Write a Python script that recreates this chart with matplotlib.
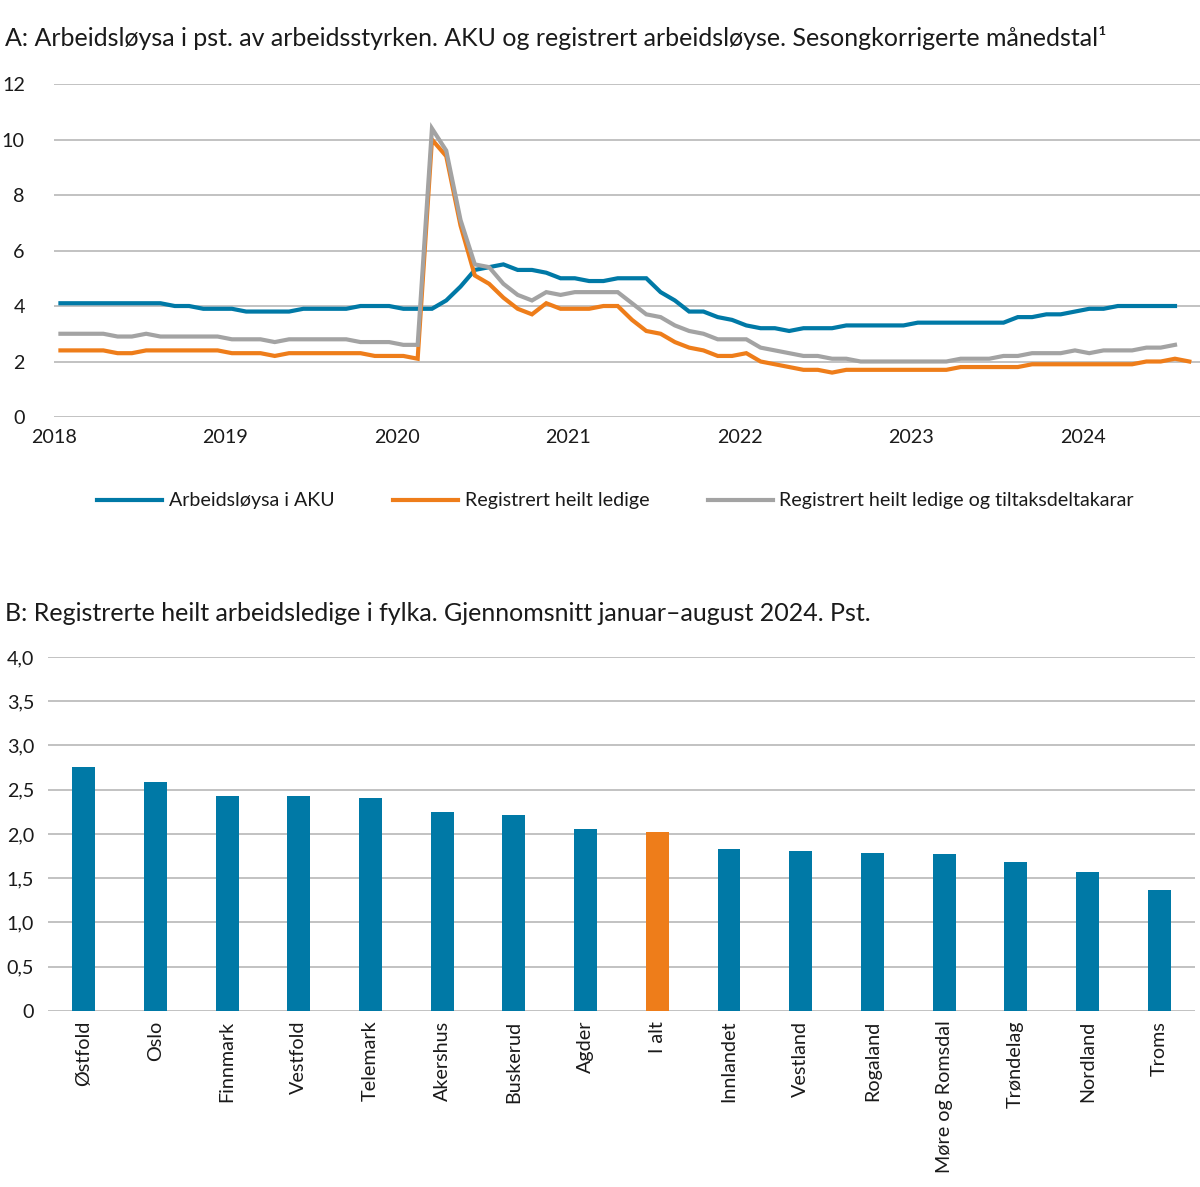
import matplotlib
matplotlib.use("Agg")
import matplotlib.pyplot as plt
import numpy as np

plt.rcParams['font.family'] = ['Lato', 'DejaVu Sans']

# ---------- Data: panel A (monthly, from Jan 2018) ----------
aku = [4.1, 4.1, 4.1, 4.1, 4.1, 4.1, 4.1, 4.1, 4.0, 4.0, 3.9, 3.9,
       3.9, 3.8, 3.8, 3.8, 3.8, 3.9, 3.9, 3.9, 3.9, 4.0, 4.0, 4.0,
       3.9, 3.9, 3.9, 4.2, 4.7, 5.3, 5.4, 5.5, 5.3, 5.3, 5.2, 5.0,
       5.0, 4.9, 4.9, 5.0, 5.0, 5.0, 4.5, 4.2, 3.8, 3.8, 3.6, 3.5,
       3.3, 3.2, 3.2, 3.1, 3.2, 3.2, 3.2, 3.3, 3.3, 3.3, 3.3, 3.3,
       3.4, 3.4, 3.4, 3.4, 3.4, 3.4, 3.4, 3.6, 3.6, 3.7, 3.7, 3.8,
       3.9, 3.9, 4.0, 4.0, 4.0, 4.0, 4.0]
reg = [2.4, 2.4, 2.4, 2.4, 2.3, 2.3, 2.4, 2.4, 2.4, 2.4, 2.4, 2.4,
       2.3, 2.3, 2.3, 2.2, 2.3, 2.3, 2.3, 2.3, 2.3, 2.3, 2.2, 2.2,
       2.2, 2.1, 10.0, 9.4, 6.9, 5.1, 4.8, 4.3, 3.9, 3.7, 4.1, 3.9,
       3.9, 3.9, 4.0, 4.0, 3.5, 3.1, 3.0, 2.7, 2.5, 2.4, 2.2, 2.2,
       2.3, 2.0, 1.9, 1.8, 1.7, 1.7, 1.6, 1.7, 1.7, 1.7, 1.7, 1.7,
       1.7, 1.7, 1.7, 1.8, 1.8, 1.8, 1.8, 1.8, 1.9, 1.9, 1.9, 1.9,
       1.9, 1.9, 1.9, 1.9, 2.0, 2.0, 2.1, 2.0]
reg_tiltak = [3.0, 3.0, 3.0, 3.0, 2.9, 2.9, 3.0, 2.9, 2.9, 2.9, 2.9, 2.9,
              2.8, 2.8, 2.8, 2.7, 2.8, 2.8, 2.8, 2.8, 2.8, 2.7, 2.7, 2.7,
              2.6, 2.6, 10.4, 9.6, 7.1, 5.5, 5.4, 4.8, 4.4, 4.2, 4.5, 4.4,
              4.5, 4.5, 4.5, 4.5, 4.1, 3.7, 3.6, 3.3, 3.1, 3.0, 2.8, 2.8,
              2.8, 2.5, 2.4, 2.3, 2.2, 2.2, 2.1, 2.1, 2.0, 2.0, 2.0, 2.0,
              2.0, 2.0, 2.0, 2.1, 2.1, 2.1, 2.2, 2.2, 2.3, 2.3, 2.3, 2.4,
              2.3, 2.4, 2.4, 2.4, 2.5, 2.5, 2.6]
year_labels = ['2018', '2019', '2020', '2021', '2022', '2023', '2024']
series_names = ['Arbeidsløysa i AKU', 'Registrert heilt ledige',
                'Registrert heilt ledige og tiltaksdeltakarar']

# ---------- Data: panel B ----------
fylke = ['Østfold', 'Oslo', 'Finnmark', 'Vestfold', 'Telemark', 'Akershus',
         'Buskerud', 'Agder', 'I alt', 'Innlandet', 'Vestland', 'Rogaland',
         'Møre og Romsdal', 'Trøndelag', 'Nordland', 'Troms']
ledige = [2.76, 2.59, 2.43, 2.43, 2.41, 2.25, 2.21, 2.06, 2.02, 1.83, 1.81,
          1.78, 1.77, 1.68, 1.57, 1.37]

BLUE = '#0079A6'
ORANGE = '#EE7D1A'
GRAY = '#A3A3A3'
GRID = '#BDBDBD'
TXT = '#1a1a1a'

fig = plt.figure(figsize=(12, 11.87), dpi=100)

# ---------- Panel A ----------
axA = fig.add_axes([0.045, 0.6487, 0.955, 0.2805])
off = 0.45
xa = np.arange(len(aku)) + off
xr = np.arange(len(reg)) + off
xt = np.arange(len(reg_tiltak)) + off
lA, = axA.plot(xa, aku, color=BLUE, lw=3, solid_joinstyle='miter')
lR, = axA.plot(xr, reg, color=ORANGE, lw=3, solid_joinstyle='miter')
lT, = axA.plot(xt, reg_tiltak, color=GRAY, lw=3, solid_joinstyle='miter')
axA.set_xlim(0, 80.2)
axA.set_ylim(0, 12)
axA.set_yticks(np.arange(0, 13, 2))
axA.set_xticks(np.arange(len(year_labels)) * 12)
axA.set_xticklabels(year_labels)
axA.yaxis.grid(True, color=GRID, lw=1.3)
axA.set_axisbelow(True)
for s in axA.spines.values():
    s.set_visible(False)
axA.tick_params(axis='both', length=0, labelsize=14.2, colors=TXT)
axA.tick_params(axis='y', pad=21)
axA.tick_params(axis='x', pad=9)
for lbl in axA.get_yticklabels():
    lbl.set_horizontalalignment('right')

fig.text(0.004, 0.968, 'A: Arbeidsløysa i pst. av arbeidsstyrken. AKU og registrert arbeidsløyse. Sesongkorrigerte månedstal¹',
         fontsize=18, ha='left', va='center', color=TXT)

leg = fig.legend([lA, lR, lT], series_names, loc='center', ncol=3,
                 bbox_to_anchor=(0.513, 0.578), frameon=False, fontsize=14.1,
                 handlelength=3.3, handletextpad=0.35, columnspacing=3.0)
for t in leg.get_texts():
    t.set_color(TXT)

# ---------- Panel B ----------
axB = fig.add_axes([0.04, 0.1483, 0.9558, 0.2982])
xb = np.arange(len(fylke))
colors = [ORANGE if f == 'I alt' else BLUE for f in fylke]
axB.bar(xb, ledige, width=0.32, color=colors, zorder=3)
axB.set_xlim(-0.5, len(fylke) - 0.5)
axB.set_ylim(0, 4.0)
yt = np.arange(0, 4.01, 0.5)
axB.set_yticks(yt)
axB.set_yticklabels(['0'] + [f'{v:.1f}'.replace('.', ',') for v in yt[1:]])
axB.set_xticks(xb)
axB.set_xticklabels(fylke, rotation=90, va='top', ha='center')
axB.yaxis.grid(True, color=GRID, lw=1.3, zorder=0)
axB.set_axisbelow(True)
for s in axB.spines.values():
    s.set_visible(False)
axB.tick_params(axis='both', length=0, labelsize=14.2, colors=TXT)
axB.tick_params(axis='y', pad=10)
axB.tick_params(axis='x', pad=7)

fig.text(0.004, 0.483, 'B: Registrerte heilt arbeidsledige i fylka. Gjennomsnitt januar–august 2024. Pst.',
         fontsize=18, ha='left', va='center', color=TXT)

fig.savefig('out.png', dpi=100)
